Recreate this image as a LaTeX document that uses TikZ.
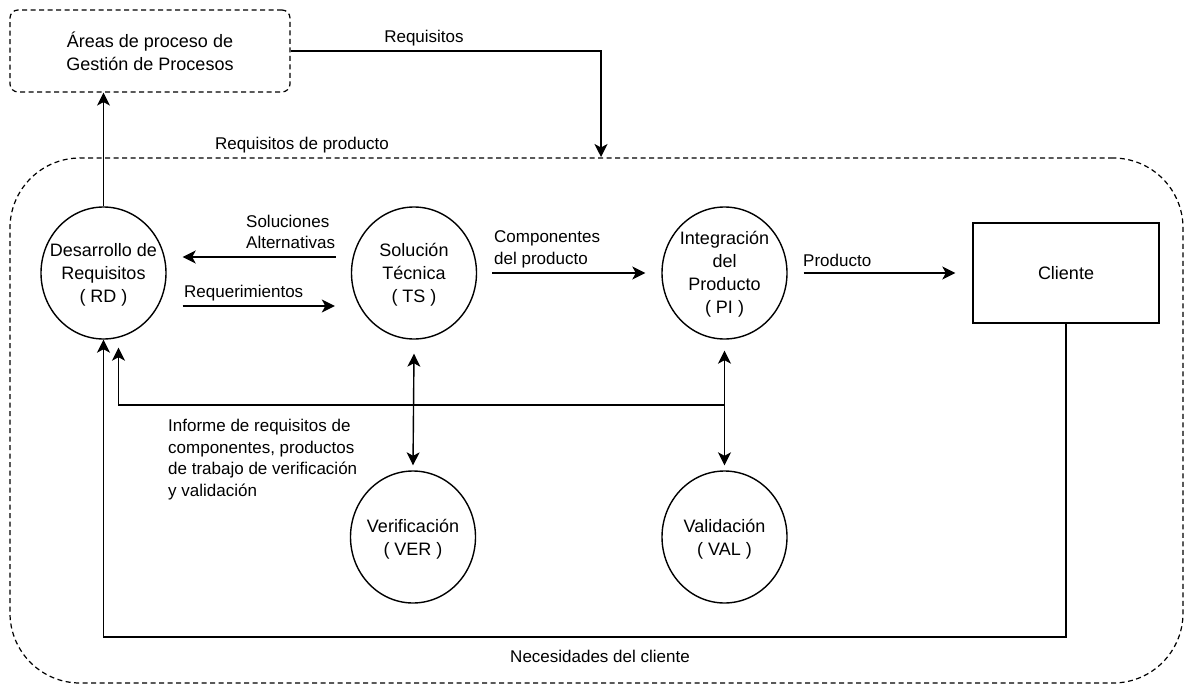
\documentclass[tikz,border=0pt]{standalone}
\usepackage{fontspec}
\setmainfont{Liberation Sans}
\usetikzlibrary{arrows.meta,shapes.geometric}
\begin{document}
\begin{tikzpicture}[x=1pt,y=-1pt,
  proc/.style={draw, ellipse, line width=1.4pt, minimum width=125pt, minimum height=132pt, inner sep=0pt},
  ptext/.style={align=center, inner sep=0pt, font=\fontsize{18}{23}\selectfont},
  lbl/.style={inner sep=0pt, font=\fontsize{17}{21.5}\selectfont},
  tip/.style={-{Stealth[length=13pt,width=13pt,inset=3.5pt]}},
  arr/.style={line width=1.4pt, tip},
  darr/.style={line width=1.4pt, {Stealth[length=13pt,width=13pt,inset=3.5pt]}-{Stealth[length=13pt,width=13pt,inset=3.5pt]}},
  dashbox/.style={draw, line width=1.2pt, dash pattern=on 5pt off 3.5pt}
]
\useasboundingbox (0,0) rectangle (1185,685);

% process-group boxes
\node[dashbox, rounded corners=8pt, minimum width=280pt, minimum height=82pt, align=center,
      font=\fontsize{18}{23}\selectfont] (GP) at (150,51) {Áreas de proceso de\\Gestión de Procesos};
\node[dashbox, rounded corners=70pt, minimum width=1173pt, minimum height=525pt] (PD) at (596.5,420.5) {};

% processes
\node[proc] (RD) at (103.5,273) {};
\node[ptext] at (103.5,275) {Desarrollo de\\Requisitos\\( RD )};
\node[proc] (TS) at (414,273) {};
\node[ptext] at (414,275) {Solución\\Técnica\\( TS )};
\node[proc] (PI) at (724.5,273) {};
\node[ptext] at (724.5,274.5) {Integración\\del\\Producto\\( PI )};
\node[proc] (VER) at (413,537) {};
\node[ptext] at (413,539) {Verificación\\( VER )};
\node[proc] (VAL) at (724.5,537) {};
\node[ptext] at (724.5,539) {Validación\\( VAL )};
\node[draw, line width=1.4pt, minimum width=186pt, minimum height=100pt,
      font=\fontsize{18}{23}\selectfont] (CL) at (1066,273) {Cliente};

% flows
\coordinate (rq) at (601,157);
\draw[arr] (GP.east) -| (rq);
\draw[arr] (RD.north) -- (RD.north |- GP.south);
\draw[arr] ([xshift=-15pt,yshift=16pt]TS.west) -- ([xshift=16pt,yshift=16pt]RD.east);
\draw[arr] ([xshift=16pt,yshift=-33pt]RD.east) -- ([xshift=-16pt,yshift=-33pt]TS.west);
\draw[arr] ([xshift=15pt]TS.east) -- ([xshift=-16pt]PI.west);
\draw[arr] ([xshift=16pt]PI.east) -- ([xshift=-17pt]CL.west);
\draw[darr] ([yshift=-14pt]TS.south) -- ([yshift=5pt]VER.north);
\draw[darr] ([yshift=-11pt]PI.south) -- ([yshift=5pt]VAL.north);
\draw[arr] (PI.south |- 0,405) -| ([xshift=15pt,yshift=-8pt]RD.south);
\draw[arr] (CL.south) |- (RD.south |- 0,637) -- (RD.south);

% labels
\node[lbl] at (424,38) {Requisitos};
\node[lbl] at (302,145) {Requisitos de producto};
\node[lbl, anchor=west, align=left] at (246,232) {Soluciones\\Alternativas};
\node[lbl, anchor=west] at (184,293) {Requerimientos};
\node[lbl, anchor=west, align=left] at (494,249.5) {Componentes\\del producto};
\node[lbl, anchor=west] at (803,260) {Producto};
\node[lbl, anchor=west, align=left] at (168,459.5) {Informe de requisitos de\\componentes, productos\\de trabajo de verificación\\y validación};
\node[lbl] at (600,656) {Necesidades del cliente};
\end{tikzpicture}
\end{document}
